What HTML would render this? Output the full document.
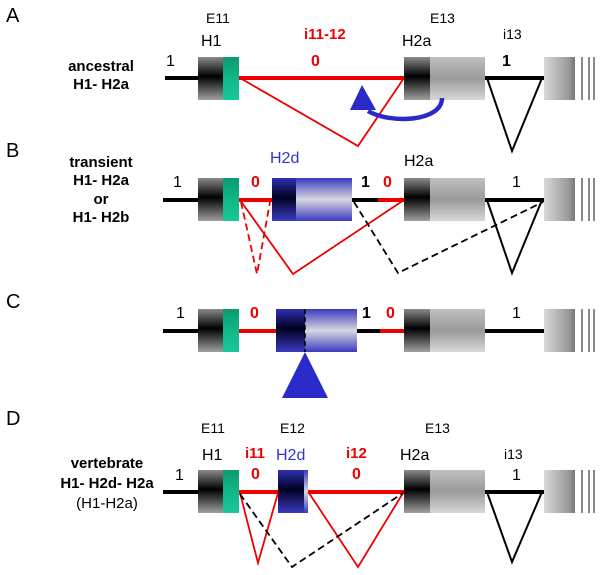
<!DOCTYPE html>
<html><head><meta charset="utf-8"><style>html,body{margin:0;padding:0;background:#fff;overflow:hidden}svg{display:block}text{font-family:"Liberation Sans",Arial,sans-serif}</style></head>
<body>
<svg width="600" height="575" viewBox="0 0 600 575" xmlns="http://www.w3.org/2000/svg">
<defs>
<linearGradient id="dk" x1="0" y1="0" x2="0" y2="1"><stop offset="0" stop-color="#8a8a8a"/><stop offset="0.45" stop-color="#000"/><stop offset="1" stop-color="#a0a0a0"/></linearGradient>
<linearGradient id="lt" x1="0" y1="0" x2="0" y2="1"><stop offset="0" stop-color="#c0c0c0"/><stop offset="0.5" stop-color="#9a9a9a"/><stop offset="1" stop-color="#d8d8d8"/></linearGradient>
<linearGradient id="gr" x1="0" y1="0" x2="0" y2="1"><stop offset="0" stop-color="#0a9a70"/><stop offset="0.5" stop-color="#10b888"/><stop offset="1" stop-color="#18c898"/></linearGradient>
<linearGradient id="bd" x1="0" y1="0" x2="0" y2="1"><stop offset="0" stop-color="#3030b0"/><stop offset="0.45" stop-color="#000020"/><stop offset="1" stop-color="#3a3ac0"/></linearGradient>
<linearGradient id="bl" x1="0" y1="0" x2="0" y2="1"><stop offset="0" stop-color="#3a3ac0"/><stop offset="0.5" stop-color="#d8d8e0"/><stop offset="1" stop-color="#3a3ac0"/></linearGradient>
<linearGradient id="rt" x1="0" y1="0" x2="1" y2="0"><stop offset="0" stop-color="#d8d8d8"/><stop offset="0.8" stop-color="#999"/><stop offset="1" stop-color="#777"/></linearGradient>
<g id="h1"><rect x="198" y="0" width="25" height="43" fill="url(#dk)"/><rect x="223" y="0" width="16" height="43" fill="url(#gr)"/></g>
<g id="h2a"><rect x="404" y="0" width="26" height="43" fill="url(#dk)"/><rect x="430" y="0" width="55" height="43" fill="url(#lt)"/></g>
<g id="tail"><rect x="544" y="0" width="31" height="43" fill="url(#rt)"/><rect x="581" y="0" width="2" height="43" fill="#888"/><rect x="588" y="0" width="2" height="43" fill="#888"/><rect x="593" y="0" width="2" height="43" fill="#888"/></g>
</defs>

<g font-size="20" fill="#000"><text x="6" y="22">A</text><text x="6" y="157">B</text><text x="6" y="308">C</text><text x="6" y="425">D</text></g>

<!-- A -->
<line x1="165" y1="78" x2="198" y2="78" stroke="#000" stroke-width="4"/>
<line x1="239" y1="78" x2="404" y2="78" stroke="#e00" stroke-width="4"/>
<line x1="485" y1="78" x2="544" y2="78" stroke="#000" stroke-width="4"/>
<use href="#h1" y="57"/><use href="#h2a" y="57"/><use href="#tail" y="57"/>
<polyline points="240,78 358,146 404,78" fill="none" stroke="#e00" stroke-width="1.8"/>
<polyline points="487,78 512,151 542,78" fill="none" stroke="#000" stroke-width="2"/>
<path d="M442,98 C442,122 390,124 368,111" fill="none" stroke="#2a2ac8" stroke-width="4.5"/>
<polygon points="362,85 350,110 376,110" fill="#2a2ac8"/>
<g font-size="14"><text x="206" y="23">E11</text><text x="430" y="23">E13</text><text x="503" y="39">i13</text></g>
<g font-size="16"><text x="201" y="46">H1</text><text x="402" y="46">H2a</text><text x="166" y="66">1</text></g>
<text x="304" y="39" font-size="15" font-weight="bold" fill="#e00">i11-12</text>
<text x="311" y="66" font-size="16" font-weight="bold" fill="#e00">0</text>
<text x="502" y="66" font-size="16" font-weight="bold">1</text>
<g font-size="15" font-weight="bold" text-anchor="middle"><text x="101" y="71">ancestral</text><text x="101" y="89">H1- H2a</text></g>

<!-- B -->
<line x1="163" y1="200" x2="198" y2="200" stroke="#000" stroke-width="4"/>
<line x1="239" y1="200" x2="272" y2="200" stroke="#e00" stroke-width="4"/>
<line x1="352" y1="200" x2="378" y2="200" stroke="#000" stroke-width="4"/>
<line x1="378" y1="200" x2="404" y2="200" stroke="#e00" stroke-width="4"/>
<line x1="485" y1="200" x2="544" y2="200" stroke="#000" stroke-width="4"/>
<use href="#h1" y="178"/><use href="#h2a" y="178"/><use href="#tail" y="178"/>
<rect x="272" y="178" width="24" height="43" fill="url(#bd)"/><rect x="296" y="178" width="56" height="43" fill="url(#bl)"/>
<polyline points="241,202 257,274 270,202" fill="none" stroke="#e00" stroke-width="1.8" stroke-dasharray="7,4"/>
<polyline points="240,200 293,274 404,200" fill="none" stroke="#e00" stroke-width="1.8"/>
<polyline points="354,202 398,273 543,202" fill="none" stroke="#000" stroke-width="1.8" stroke-dasharray="7,4"/>
<polyline points="487,200 512,273 542,200" fill="none" stroke="#000" stroke-width="2"/>
<text x="270" y="163" font-size="16" fill="#3333cc">H2d</text>
<g font-size="16"><text x="404" y="166">H2a</text><text x="173" y="187">1</text><text x="512" y="187">1</text></g>
<g font-size="16" font-weight="bold"><text x="251" y="187" fill="#e00">0</text><text x="361" y="187">1</text><text x="383" y="187" fill="#e00">0</text></g>
<g font-size="15" font-weight="bold" text-anchor="middle"><text x="101" y="167">transient</text><text x="101" y="185">H1- H2a</text><text x="101" y="204">or</text><text x="101" y="222">H1- H2b</text></g>

<!-- C -->
<line x1="163" y1="331" x2="198" y2="331" stroke="#000" stroke-width="4"/>
<line x1="239" y1="331" x2="276" y2="331" stroke="#e00" stroke-width="4"/>
<line x1="357" y1="331" x2="380" y2="331" stroke="#000" stroke-width="4"/>
<line x1="380" y1="331" x2="404" y2="331" stroke="#e00" stroke-width="4"/>
<line x1="485" y1="331" x2="544" y2="331" stroke="#000" stroke-width="4"/>
<use href="#h1" y="309"/><use href="#h2a" y="309"/><use href="#tail" y="309"/>
<rect x="276" y="309" width="29" height="43" fill="url(#bd)"/><rect x="305" y="309" width="52" height="43" fill="url(#bl)"/>
<line x1="305" y1="309" x2="305" y2="352" stroke="#000" stroke-width="1.5" stroke-dasharray="5,3"/>
<polygon points="305,352 282,398 328,398" fill="#2a2ac8"/>
<g font-size="16"><text x="176" y="318">1</text><text x="512" y="318">1</text></g>
<g font-size="16" font-weight="bold"><text x="250" y="318" fill="#e00">0</text><text x="362" y="318">1</text><text x="386" y="318" fill="#e00">0</text></g>

<!-- D -->
<line x1="163" y1="492" x2="198" y2="492" stroke="#000" stroke-width="4"/>
<line x1="239" y1="492" x2="278" y2="492" stroke="#e00" stroke-width="4"/>
<line x1="308" y1="492" x2="404" y2="492" stroke="#e00" stroke-width="4"/>
<line x1="485" y1="492" x2="544" y2="492" stroke="#000" stroke-width="4"/>
<use href="#h1" y="470"/><use href="#h2a" y="470"/><use href="#tail" y="470"/>
<rect x="278" y="470" width="26" height="43" fill="url(#bd)"/><rect x="304" y="470" width="4" height="43" fill="url(#bl)"/>
<polyline points="240,493 258,563 278,493" fill="none" stroke="#e00" stroke-width="1.8"/>
<polyline points="309,493 358,567 403,493" fill="none" stroke="#e00" stroke-width="1.8"/>
<polyline points="240,494 292,567 403,493" fill="none" stroke="#000" stroke-width="1.8" stroke-dasharray="7,4"/>
<polyline points="487,492 512,562 542,492" fill="none" stroke="#000" stroke-width="2"/>
<g font-size="14"><text x="201" y="433">E11</text><text x="280" y="433">E12</text><text x="425" y="433">E13</text><text x="504" y="459">i13</text></g>
<g font-size="16"><text x="202" y="460">H1</text><text x="400" y="460">H2a</text><text x="175" y="480">1</text><text x="512" y="480">1</text></g>
<text x="276" y="460" font-size="16" fill="#3333cc">H2d</text>
<g font-size="15" font-weight="bold" fill="#e00"><text x="245" y="458">i11</text><text x="346" y="458">i12</text></g>
<g font-size="16" font-weight="bold" fill="#e00"><text x="251" y="479">0</text><text x="352" y="479">0</text></g>
<g text-anchor="middle" font-size="15"><text x="107" y="468" font-weight="bold">vertebrate</text><text x="107" y="488" font-weight="bold">H1- H2d- H2a</text><text x="107" y="508">(H1-H2a)</text></g>
</svg>
</body></html>
